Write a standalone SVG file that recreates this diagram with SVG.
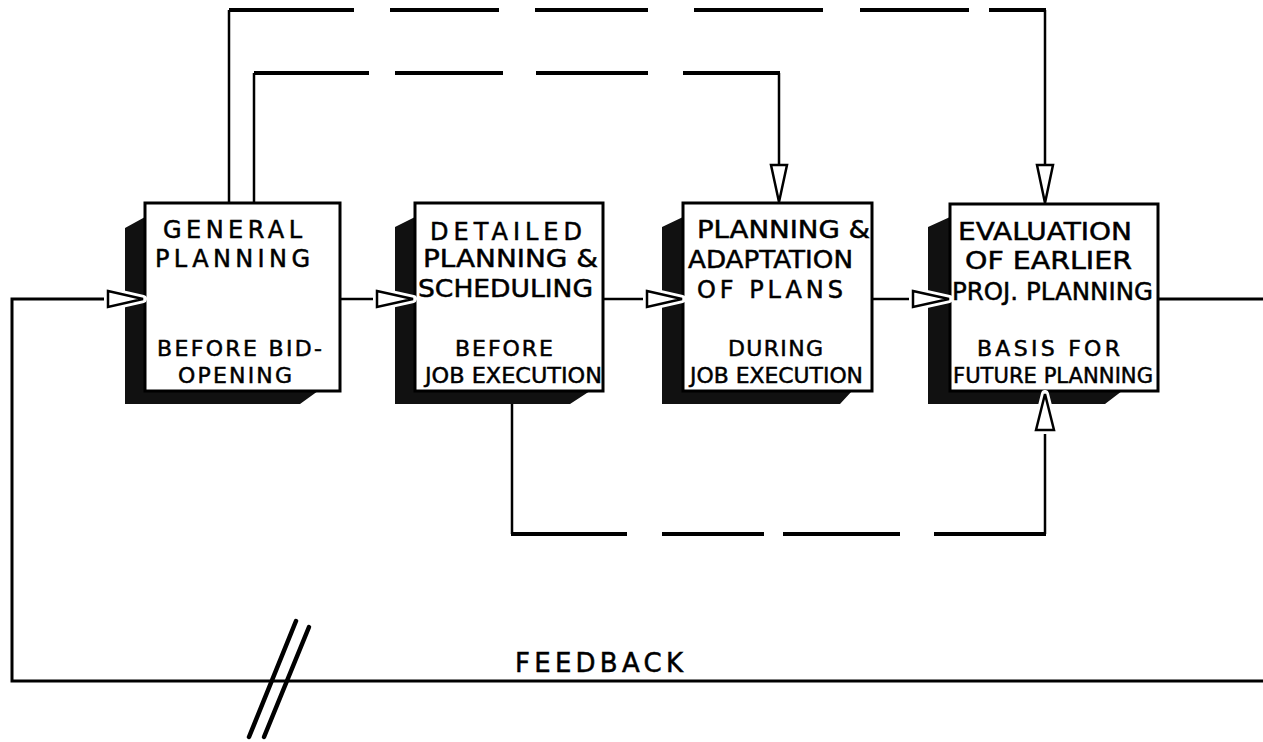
<svg xmlns="http://www.w3.org/2000/svg" width="1263" height="742" viewBox="0 0 1263 742">
<style>
.face{fill:#fff;stroke:#000;stroke-width:3}
.shadow{fill:#111;stroke:none}
.t{font-family:"DejaVu Sans","Liberation Sans",Arial,sans-serif;font-size:24px;fill:#000;stroke:#000;stroke-width:0.5}
.s{font-size:22px}
.line{fill:none;stroke:#000;stroke-width:2.5}
.fb{fill:none;stroke:#000;stroke-width:3}
.dash{fill:none;stroke:#000;stroke-width:4}
.halo{fill:#fff;stroke:#fff;stroke-width:8;stroke-linejoin:round}
.head{fill:#fff;stroke:#000;stroke-width:2.5;stroke-linejoin:miter}
.brk{fill:none;stroke:#000;stroke-width:4.5;stroke-linecap:round}
</style>
<rect width="1263" height="742" fill="#fff"/>
<g id="node-general">
<polygon class="shadow" points="145,217 125,228 125,404 300,404 318,391 145,391"/>
<rect class="face" x="145" y="203" width="195" height="188"/>
<text class="t" x="163" y="238" textLength="139">GENERAL</text>
<text class="t" x="155" y="267" textLength="155">PLANNING</text>
<text class="t s" x="157" y="356" textLength="165">BEFORE BID-</text>
<text class="t s" x="178" y="383" textLength="114">OPENING</text>
</g>
<g id="node-detailed">
<polygon class="shadow" points="415,217 395,227 395,404 570,404 590,391 415,391"/>
<rect class="face" x="415" y="203" width="188" height="188"/>
<text class="t" x="430" y="240" textLength="152">DETAILED</text>
<text class="t" x="423" y="267" textLength="175" lengthAdjust="spacingAndGlyphs">PLANNING &amp;</text>
<text class="t" x="418" y="297" textLength="175" lengthAdjust="spacingAndGlyphs">SCHEDULING</text>
<text class="t s" x="455" y="356" textLength="98">BEFORE</text>
<text class="t s" x="425" y="383" textLength="177" lengthAdjust="spacingAndGlyphs">JOB EXECUTION</text>
</g>
<g id="node-adaptation">
<polygon class="shadow" points="683,217 662,227 662,404 840,404 852,391 683,391"/>
<rect class="face" x="683" y="203" width="189" height="188"/>
<text class="t" x="697" y="238" textLength="173" lengthAdjust="spacingAndGlyphs">PLANNING &amp;</text>
<text class="t" x="688" y="268" textLength="165" lengthAdjust="spacingAndGlyphs">ADAPTATION</text>
<text class="t" x="697" y="298" textLength="146">OF PLANS</text>
<text class="t s" x="728" y="356" textLength="95">DURING</text>
<text class="t s" x="690" y="383" textLength="173" lengthAdjust="spacingAndGlyphs">JOB EXECUTION</text>
</g>
<g id="node-evaluation">
<polygon class="shadow" points="950,217 928,227 928,404 1105,404 1122,391 950,391"/>
<rect class="face" x="950" y="204" width="208" height="187"/>
<text class="t" x="958" y="240" textLength="174" lengthAdjust="spacingAndGlyphs">EVALUATION</text>
<text class="t" x="965" y="269" textLength="167" lengthAdjust="spacingAndGlyphs">OF EARLIER</text>
<text class="t" x="952" y="300" textLength="201" lengthAdjust="spacingAndGlyphs">PROJ. PLANNING</text>
<text class="t s" x="977" y="356" textLength="143">BASIS FOR</text>
<text class="t s" x="953" y="383" textLength="200" lengthAdjust="spacingAndGlyphs">FUTURE PLANNING</text>
</g>
<g id="connectors">
<path class="line" d="M340,299 H377 M603,299 H647 M872,299 H913"/>
<path class="fb" d="M1158,299 H1263 M1263,681 H12 V299 H108"/>
<path class="line" d="M229,203 V10 M254,203 V73 M779,73 V165 M1045,10 V165 M512,404 V534 M1045,534 V430"/>
<path class="dash" d="M229,10 H354 M390,10 H499 M535,10 H648 M694,10 H823 M860,10 H969 M989,10 H1046"/>
<path class="dash" d="M254,73 H369 M395,73 H503 M536,73 H648 M683,73 H780"/>
<path class="dash" d="M511,534 H627 M662,534 H764 M783,534 H900 M934,534 H1046"/>
<g id="arrowheads">
<polygon class="halo" points="108,291 143,299 108,307"/>
<polygon class="head" points="108,291 143,299 108,307"/>
<polygon class="halo" points="377,291 413,299 377,307"/>
<polygon class="head" points="377,291 413,299 377,307"/>
<polygon class="halo" points="647,291 682,299 647,307"/>
<polygon class="head" points="647,291 682,299 647,307"/>
<polygon class="halo" points="913,291 949,299 913,307"/>
<polygon class="head" points="913,291 949,299 913,307"/>
<polygon class="head" points="771,165 779,202 787,165"/>
<polygon class="head" points="1037,165 1045,203 1053,165"/>
<polygon class="halo" points="1036,430 1045,394 1054,430"/>
<polygon class="head" points="1036,430 1045,394 1054,430"/>
</g>
</g>
<g id="break-mark">
<line class="brk" x1="296" y1="621" x2="249" y2="737"/>
<line class="brk" x1="309" y1="627" x2="264" y2="737"/>
</g>
<text id="label-feedback" class="t" x="515" y="672" textLength="168" style="font-size:26px">FEEDBACK</text>
</svg>
